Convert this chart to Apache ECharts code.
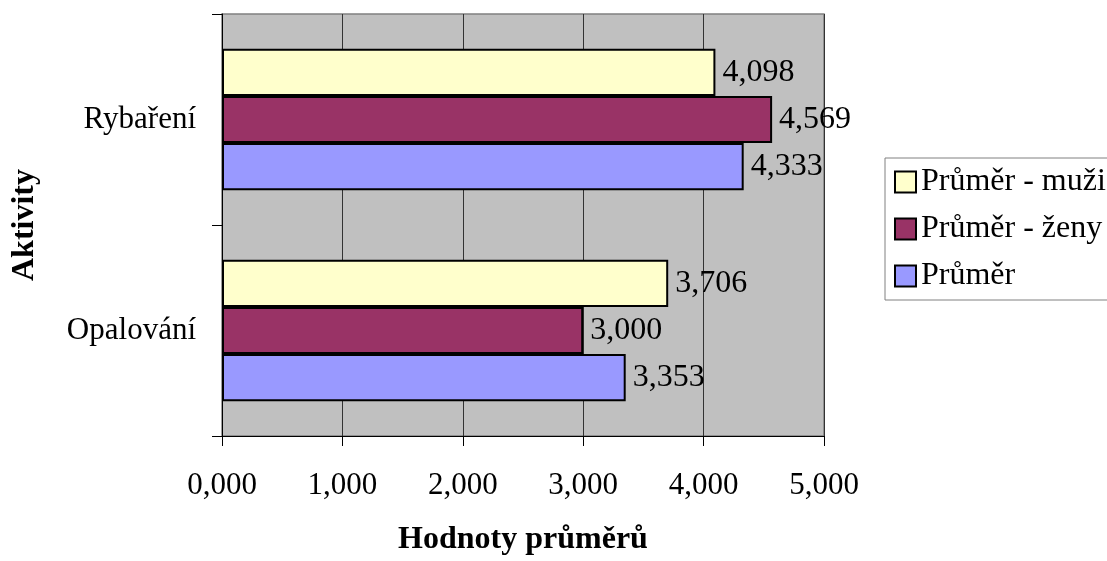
<!DOCTYPE html>
<html>
<head>
<meta charset="utf-8">
<script src="https://cdn.jsdelivr.net/npm/echarts@6/dist/echarts.min.js"></script>
<style>
html,body{margin:0;padding:0;background:#fff;}
#chart{width:1107px;height:561px;}
</style>
</head>
<body>
<div id="chart"></div>
<script>
var categories = ['Rybaření', 'Opalování'];
var seriesNames = ['Průměr - muži', 'Průměr - ženy', 'Průměr'];
var valuesMuzi = [4.098, 3.706];
var valuesZeny = [4.569, 3.000];
var valuesPrumer = [4.333, 3.353];
var xTicks = [0, 1, 2, 3, 4, 5];

var FONT = '"Liberation Serif", "Times New Roman", serif';
function fmt(v) { return Number(v).toFixed(3).replace('.', ','); }

var colors = ['#FFFFCC', '#993366', '#9999FF'];
var allValues = [valuesMuzi, valuesZeny, valuesPrumer];

var chart = echarts.init(document.getElementById('chart'), null, {renderer: 'canvas'});
chart.setOption({
  animation: false,
  textStyle: {fontFamily: FONT},
  grid: {
    left: 222, right: 283, top: 14, bottom: 118,
    show: true, backgroundColor: '#C0C0C0', borderColor: '#808080', borderWidth: 1.5
  },
  legend: {
    orient: 'vertical',
    left: 885, top: 158,
    padding: [8, 9, 8, 9],
    itemWidth: 21, itemHeight: 21, itemGap: 15,
    backgroundColor: '#fff',
    borderColor: '#808080', borderWidth: 1,
    data: seriesNames,
    textStyle: {fontFamily: FONT, fontSize: 32, color: '#000', padding: [0, 0, 0, 0]},
    icon: 'rect'
  },
  xAxis: {
    type: 'value',
    min: xTicks[0], max: xTicks[xTicks.length - 1], interval: 1,
    name: 'Hodnoty průměrů',
    nameLocation: 'middle',
    nameGap: 88,
    nameTextStyle: {fontFamily: FONT, fontSize: 32, fontWeight: 'bold', color: '#000'},
    axisLine: {show: true, lineStyle: {color: '#000', width: 1}},
    axisTick: {show: true, length: 10, lineStyle: {color: '#000'}},
    axisLabel: {fontFamily: FONT, fontSize: 31, color: '#000', margin: 34, formatter: fmt},
    splitLine: {show: true, lineStyle: {color: '#333', width: 1}}
  },
  yAxis: {
    type: 'category',
    inverse: true,
    data: categories,
    name: 'Aktivity',
    nameLocation: 'middle',
    nameGap: 181,
    nameRotate: 90,
    nameTextStyle: {fontFamily: FONT, fontSize: 32, fontWeight: 'bold', color: '#000'},
    axisLine: {show: true, lineStyle: {color: '#000', width: 1}},
    axisTick: {show: true, length: 10, lineStyle: {color: '#000'}},
    axisLabel: {fontFamily: FONT, fontSize: 31, color: '#000', margin: 26}
  },
  series: seriesNames.map(function (n, i) {
    return {
      name: n,
      type: 'bar',
      data: allValues[i],
      barGap: '0%',
      barCategoryGap: '33%',
      itemStyle: {color: colors[i], borderColor: '#000', borderWidth: 2},
      label: {
        show: true, position: 'right', distance: 7,
        fontFamily: FONT, fontSize: 32, color: '#000',
        formatter: function (p) { return fmt(p.value); }
      }
    };
  })
});
</script>
</body>
</html>
